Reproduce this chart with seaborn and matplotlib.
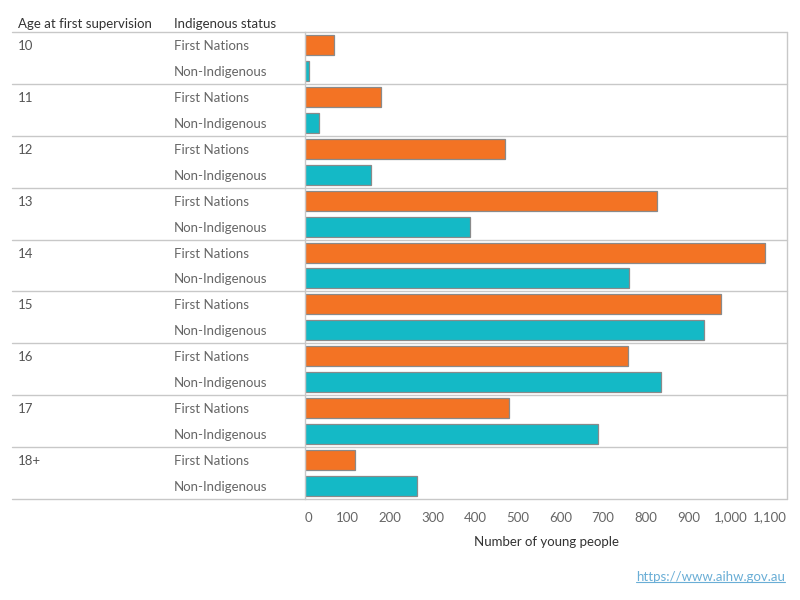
import matplotlib
matplotlib.use("Agg")
import matplotlib.pyplot as plt
import matplotlib.transforms as mtransforms
import seaborn as sns
import pandas as pd

ages = ["10", "11", "12", "13", "14", "15", "16", "17", "18+"]
statuses = ["First Nations", "Non-Indigenous"]
first_nations = [68, 178, 469, 826, 1080, 976, 758, 479, 117]
non_indigenous = [9, 33, 155, 387, 760, 937, 836, 688, 263]
x_ticks = [0, 100, 200, 300, 400, 500, 600, 700, 800, 900, 1000, 1100]
colors = {"First Nations": "#F37324", "Non-Indigenous": "#14B9C6"}

rows = []
for a, fn, ni in zip(ages, first_nations, non_indigenous):
    rows.append({"row": f"{a}|First Nations", "age": a, "status": "First Nations", "value": fn})
    rows.append({"row": f"{a}|Non-Indigenous", "age": a, "status": "Non-Indigenous", "value": ni})
df = pd.DataFrame(rows)

sns.set_style("white")
plt.rcParams["font.family"] = ["Lato", "DejaVu Sans"]

W, H = 800, 600
fig = plt.figure(figsize=(8, 6), dpi=100)
left, right, top, bottom = 304.7, 787.3, 32, 499
ax = fig.add_axes([left / W, 1 - bottom / H, (right - left) / W, (bottom - top) / H])

sns.barplot(data=df, y="row", x="value", hue="status", palette=colors, dodge=False,
            saturation=1, width=0.77, edgecolor="#8a8a8a", linewidth=0.9, ax=ax,
            legend=False, order=list(df["row"]))

ax.set_xlim(0, (right - left) / 0.4263)
ax.set_ylim(len(df) - 0.5, -0.5)
ax.set_xticks(x_ticks)
ax.set_xticklabels([f"{t:,}" for t in x_ticks], color="#666666", fontsize=9.5)
ax.tick_params(axis="x", length=3, color="#dddddd", pad=6)
labels = ax.get_xticklabels()
labels[0].set_transform(labels[0].get_transform() +
                        mtransforms.ScaledTranslation(4 / 100, 0, fig.dpi_scale_trans))
labels[-1].set_transform(labels[-1].get_transform() +
                         mtransforms.ScaledTranslation(-4 / 100, 0, fig.dpi_scale_trans))
ax.set_yticks([])
ax.set_ylabel("")
ax.set_xlabel("Number of young people", color="#333333", fontsize=9.5, labelpad=9)

for s in ["top", "bottom", "right"]:
    ax.spines[s].set_visible(False)
ax.spines["left"].set_color("#c8c8c8")
ax.spines["left"].set_linewidth(1.0)

# separators spanning label columns
x0_frac = (12 - left) / (right - left)
trans = mtransforms.blended_transform_factory(ax.transAxes, ax.transData)
for k in range(len(ages) + 1):
    yv = -0.5 + 2 * k
    ax.plot([x0_frac, 1.0], [yv, yv], transform=trans, color="#c8c8c8",
            linewidth=1.0, clip_on=False, zorder=0)
ax.plot([1.0, 1.0], [-0.5, len(df) - 0.5], transform=trans, color="#c8c8c8",
        linewidth=1.0, clip_on=False)

# row labels
down = mtransforms.ScaledTranslation(0, -1 / 100, fig.dpi_scale_trans)
ftrans = mtransforms.blended_transform_factory(fig.transFigure, ax.transData) + down
for i, r in df.iterrows():
    if r["status"] == "First Nations":
        fig.text(18 / W, i, r["age"], transform=ftrans, va="center", ha="left",
                 color="#555555", fontsize=9.5)
    fig.text(174 / W, i, r["status"], transform=ftrans, va="center", ha="left",
             color="#666666", fontsize=9.5)

# headers
fig.text(18 / W, 1 - 24 / H, "Age at first supervision", va="center", ha="left",
         color="#333333", fontsize=9.5)
fig.text(174 / W, 1 - 24 / H, "Indigenous status", va="center", ha="left",
         color="#333333", fontsize=9.5)

# footer link
link = fig.text(785 / W, 1 - 577 / H, "https://www.aihw.gov.au", va="center", ha="right",
                color="#6aaed6", fontsize=9.5)
fig.canvas.draw()
bb = link.get_window_extent()
fig.add_artist(plt.Line2D([bb.x0 / W, bb.x1 / W], [(bb.y0 + 1) / H, (bb.y0 + 1) / H],
                          transform=fig.transFigure, color="#6aaed6", linewidth=0.8))

fig.savefig("out.png", dpi=100)
